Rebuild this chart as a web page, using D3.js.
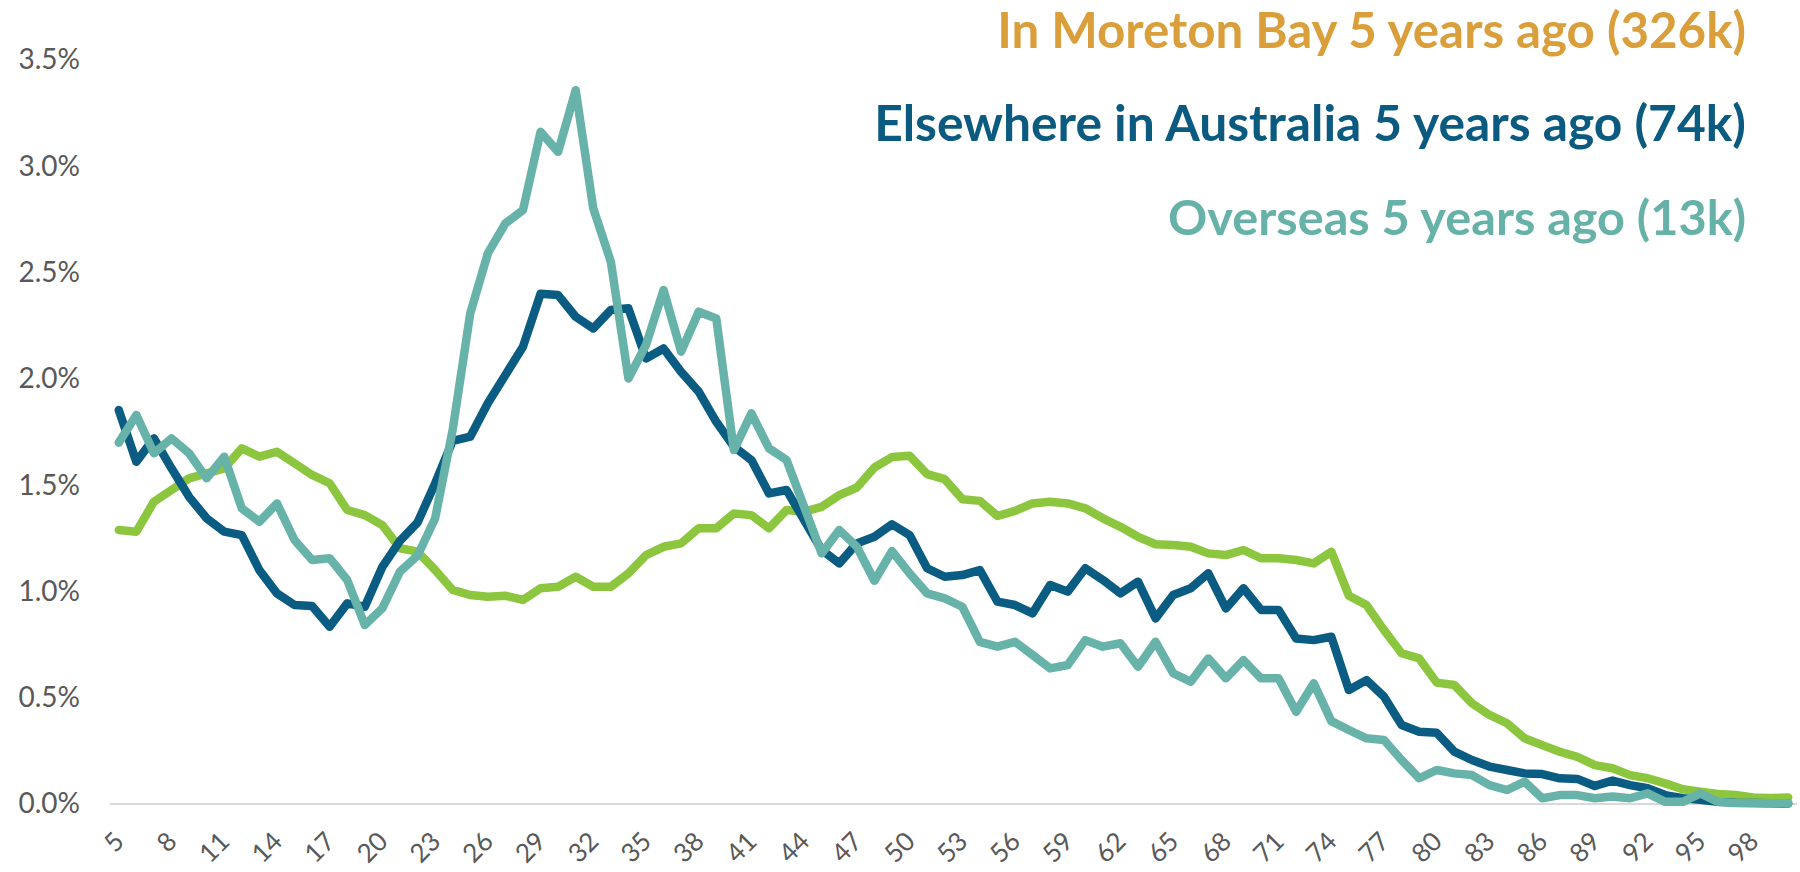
<!DOCTYPE html>
<html>
<head>
	<title>Place of usual residence 5 years ago, by age</title>
	<script type="text/javascript" src="https://d3js.org/d3.v7.min.js"></script>
	<style>
		body{
			margin: 0;
			background: #fff;
		}
		.chart text{
			font-family: Lato, "Open Sans", sans-serif;
		}
		.axis text{
			fill: #595959;
			font-size: 28px;
		}
		.x.axis text{
			font-size: 26px;
		}
		.title{
			font-weight: bold;
			text-anchor: end;
		}
		.series{
			fill: none;
			stroke-width: 8.5;
			stroke-linejoin: round;
			stroke-linecap: round;
		}
	</style>
</head>
<body>

<svg class="chart"></svg>

<script type="text/javascript">
// Ages 5..100 (single years)
	var ages = d3.range(5, 101);

	// Share of each group at each age (%)
	var moretonBay = [1.289, 1.281, 1.422, 1.477, 1.532, 1.555, 1.579, 1.673, 1.634, 1.657,
		1.603, 1.548, 1.509, 1.383, 1.359, 1.312, 1.203, 1.187, 1.101, 1.007,
		0.983, 0.975, 0.980, 0.960, 1.015, 1.022, 1.069, 1.022, 1.022, 1.085,
		1.171, 1.210, 1.226, 1.297, 1.297, 1.367, 1.359, 1.297, 1.383, 1.375,
		1.398, 1.453, 1.489, 1.583, 1.632, 1.638, 1.552, 1.528, 1.434, 1.426,
		1.355, 1.379, 1.414, 1.422, 1.414, 1.391, 1.344, 1.304, 1.257, 1.222,
		1.218, 1.210, 1.179, 1.171, 1.195, 1.156, 1.156, 1.148, 1.132, 1.187,
		0.980, 0.936, 0.818, 0.709, 0.685, 0.571, 0.560, 0.474, 0.419, 0.380,
		0.309, 0.277, 0.246, 0.222, 0.183, 0.168, 0.136, 0.121, 0.097, 0.069,
		0.058, 0.047, 0.042, 0.031, 0.028, 0.030];

	var elsewhereAus = [1.853, 1.610, 1.720, 1.579, 1.445, 1.344, 1.281, 1.265, 1.100, 0.991,
		0.936, 0.931, 0.834, 0.944, 0.928, 1.116, 1.238, 1.324, 1.508, 1.708,
		1.728, 1.885, 2.018, 2.151, 2.400, 2.394, 2.292, 2.237, 2.324, 2.332,
		2.096, 2.143, 2.033, 1.940, 1.798, 1.681, 1.618, 1.461, 1.477, 1.336,
		1.195, 1.132, 1.226, 1.257, 1.316, 1.265, 1.109, 1.069, 1.077, 1.100,
		0.952, 0.936, 0.897, 1.030, 0.999, 1.109, 1.054, 0.991, 1.046, 0.873,
		0.983, 1.015, 1.085, 0.920, 1.015, 0.913, 0.913, 0.779, 0.771, 0.787,
		0.536, 0.583, 0.505, 0.372, 0.340, 0.335, 0.246, 0.207, 0.176, 0.160,
		0.144, 0.141, 0.121, 0.118, 0.085, 0.110, 0.089, 0.074, 0.042, 0.027,
		0.020, 0.010, 0.006, 0.005, 0.003, 0.002];

	var overseas = [1.700, 1.830, 1.650, 1.720, 1.650, 1.532, 1.634, 1.391, 1.328, 1.414,
		1.242, 1.148, 1.156, 1.054, 0.842, 0.921, 1.093, 1.168, 1.343, 1.760,
		2.308, 2.590, 2.731, 2.794, 3.162, 3.068, 3.358, 2.802, 2.551, 2.002,
		2.159, 2.418, 2.128, 2.316, 2.284, 1.665, 1.838, 1.673, 1.618, 1.398,
		1.179, 1.289, 1.210, 1.050, 1.190, 1.085, 0.991, 0.967, 0.928, 0.763,
		0.740, 0.763, 0.701, 0.638, 0.654, 0.771, 0.740, 0.756, 0.646, 0.763,
		0.615, 0.575, 0.685, 0.591, 0.677, 0.591, 0.591, 0.434, 0.568, 0.390,
		0.348, 0.309, 0.301, 0.207, 0.121, 0.160, 0.144, 0.136, 0.089, 0.066,
		0.105, 0.027, 0.042, 0.042, 0.027, 0.035, 0.027, 0.050, 0.010, 0.010,
		0.050, 0.010, 0.005, 0.005, 0.003, 0.003];

	var yTicks = [0, 0.5, 1, 1.5, 2, 2.5, 3, 3.5];
	var xTicks = d3.range(5, 99, 3);  // 5, 8, ... 98

	var titles = ["In Moreton Bay 5 years ago (326k)",
		"Elsewhere in Australia 5 years ago (74k)",
		"Overseas 5 years ago (13k)"];

	var width = 1800,
		height = 872;

	// drawn bottom to top: green, dark blue, teal
	var series = [
		{values: moretonBay, color: "#8cc63f"},
		{values: elsewhereAus, color: "#0a5c82"},
		{values: overseas, color: "#67b3a9"}
	];

	var x = d3.scaleBand()
		.domain(ages)
		.range([110, 1797]);

	var y = d3.scaleLinear()
		.domain([0, 3.5])
		.range([804, 60]);

	var chart = d3.select(".chart")
		.attr("width", width)
		.attr("height", height);

	// baseline at 0%
	chart.append("line")
		.attr("x1", x.range()[0])
		.attr("x2", x.range()[1])
		.attr("y1", y(0))
		.attr("y2", y(0))
		.attr("stroke", "#d9d9d9")
		.attr("stroke-width", 2);

	// y axis, labels only
	var yAxis = chart.append("g")
		.attr("class", "y axis")
		.attr("transform", "translate(88,0)")
		.call(d3.axisLeft(y)
			.tickValues(yTicks)
			.tickSize(0)
			.tickPadding(8)
			.tickFormat(function(d){ return d.toFixed(1) + "%"; }));
	yAxis.select(".domain").remove();
	yAxis.attr("font-size", null);

	// x axis, every third age, rotated
	var xAxis = chart.append("g")
		.attr("class", "x axis")
		.attr("transform", "translate(0," + y(0) + ")")
		.call(d3.axisBottom(x)
			.tickValues(xTicks)
			.tickSize(0));
	xAxis.select(".domain").remove();
	xAxis.attr("font-size", null);
	xAxis.selectAll("text")
		.attr("x", 0)
		.attr("y", 0)
		.attr("dy", 0)
		.attr("text-anchor", "end")
		.attr("transform", "translate(7,39) rotate(-45)");

	var line = d3.line()
		.x(function(d, i){ return x(ages[i]) + x.bandwidth() / 2; })
		.y(function(d){ return y(d); });

	chart.selectAll(".series")
		.data(series)
	  .enter().append("path")
		.attr("class", "series")
		.attr("stroke", function(d){ return d.color; })
		.attr("d", function(d){ return line(d.values); });

	// legend titles, right aligned, fitted to the widths in the original
	var titleColors = ["#da9f3a", "#0b5b80", "#67b2a8"];
	var titleY = [48, 141, 235];
	var titleWidths = [749, 872, 578];

	chart.selectAll(".title")
		.data(titles)
	  .enter().append("text")
		.attr("class", "title")
		.attr("x", 1746)
		.attr("y", function(d, i){ return titleY[i]; })
		.attr("fill", function(d, i){ return titleColors[i]; })
		.style("font-size", "44px")
		.text(function(d){ return d; })
		.each(function(d, i){
			var w = this.getComputedTextLength();
			d3.select(this).style("font-size", (44 * titleWidths[i] / w) + "px");
		});

</script>
</body>
</html>
